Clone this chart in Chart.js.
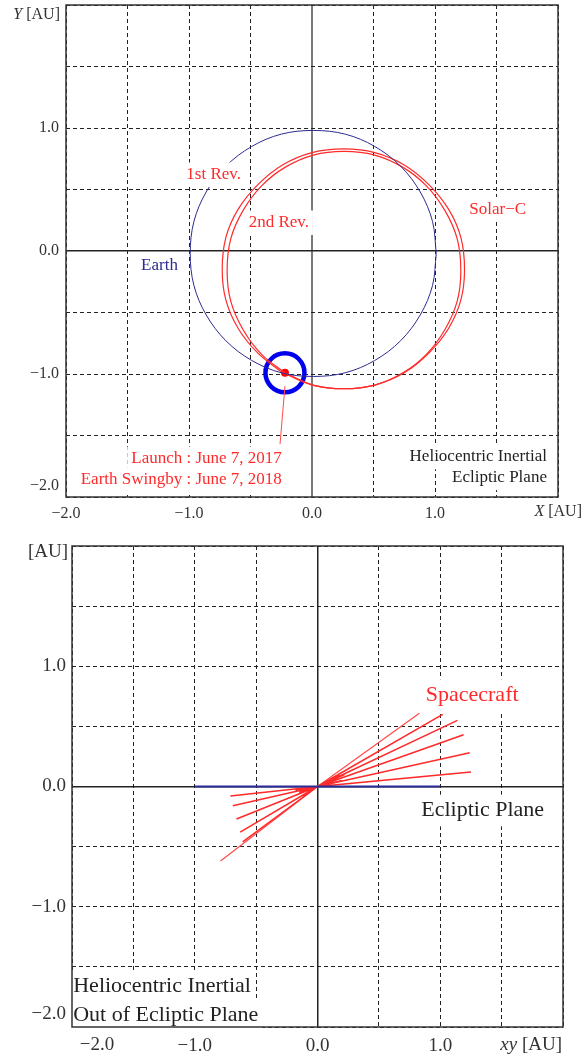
<!DOCTYPE html>
<html>
<head>
<meta charset="utf-8">
<script src="https://cdn.jsdelivr.net/npm/chart.js@4.4.1/dist/chart.umd.min.js"></script>
<style>
  html, body { margin: 0; padding: 0; background: #fff; }
  canvas { position: absolute; left: 0; }
  #top { top: 0; }
  #bottom { top: 520px; }
</style>
</head>
<body>
<canvas id="top" width="583" height="520"></canvas>
<canvas id="bottom" width="583" height="539"></canvas>
<script>
// ---------- top panel: ecliptic plane, X / Y in AU ----------
const earthX = [1.01, 0.98, 0.88, 0.72, 0.51, 0.27, 0.01, -0.25, -0.49, -0.70, -0.86, -0.96, -0.99,
                -0.96, -0.86, -0.70, -0.49, -0.25, 0.01, 0.27, 0.51, 0.72, 0.88, 0.98, 1.01];
const earthY = [-0.02, 0.24, 0.48, 0.69, 0.85, 0.95, 0.98, 0.95, 0.85, 0.69, 0.48, 0.24, -0.02,
                -0.28, -0.52, -0.73, -0.89, -0.99, -1.02, -0.99, -0.89, -0.73, -0.52, -0.28, -0.02];

// Solar-C, 1st and 2nd revolution (start / end near the launch point)
const rev1X = [-0.24, 0.00, 0.26, 0.51, 0.75, 0.95, 1.11, 1.21, 1.24, 1.21, 1.11, 0.95, 0.75,
               0.51, 0.26, 0.00, -0.24, -0.44, -0.60, -0.70, -0.73, -0.70, -0.60, -0.44, -0.24];
const rev1Y = [-0.99, -1.09, -1.12, -1.09, -0.99, -0.83, -0.63, -0.40, -0.15, 0.11, 0.34, 0.54, 0.70,
               0.80, 0.83, 0.80, 0.70, 0.54, 0.34, 0.11, -0.15, -0.40, -0.63, -0.83, -0.99];
const rev2X = [-0.22, 0.01, 0.26, 0.51, 0.74, 0.93, 1.08, 1.18, 1.21, 1.18, 1.08, 0.93, 0.74,
               0.51, 0.26, 0.01, -0.22, -0.41, -0.56, -0.66, -0.69, -0.66, -0.56, -0.41, -0.22];
const rev2Y = [-0.99, -1.09, -1.12, -1.09, -0.99, -0.84, -0.64, -0.41, -0.16, 0.10, 0.33, 0.53, 0.68,
               0.78, 0.81, 0.78, 0.68, 0.53, 0.33, 0.10, -0.16, -0.41, -0.64, -0.84, -0.99];

const launchX = [-0.22];
const launchY = [-0.99];
const leaderX = [-0.22, -0.26];
const leaderY = [-1.10, -1.57];

const topXLabels = [-2, -1, 0, 1];
const topYLabels = [1, 0, -1];

// ---------- bottom panel: out of ecliptic, xy / z in AU ----------
const eclipticX = [-1.0, 1.0];
const eclipticY = [0, 0];
const fanX = [1.02, 1.14, 1.19, 1.24, 1.25, 0.22, 0.18, 0.14, 0.20, -0.71, -0.69, -0.66, -0.63, -0.61, -0.15, -0.12, -0.18];
const fanY = [0.60, 0.55, 0.43, 0.28, 0.12, 0.10, 0.09, 0.07, 0.05, -0.08, -0.16, -0.27, -0.38, -0.46, -0.05, -0.08, -0.03];
const fanSteepX = [0.83, -0.79];
const fanSteepY = [0.61, -0.62];

const botXLabels = [-1, 0, 1];
const botYLabels = [1, 0, -1];

const SERIF = '"Liberation Serif", "Times New Roman", serif';
const RED = '#ff2a2a';

const pts = (xs, ys) => xs.map((x, i) => ({ x: x, y: ys[i] }));
const fromOrigin = (xs, ys) => {
  const out = [{ x: 0, y: 0 }];
  xs.forEach((x, i) => { out.push({ x: x, y: ys[i] }); out.push({ x: 0, y: 0 }); });
  return out;
};
const fmt = v => (v < 0 ? '\u2212' : '') + Math.abs(v).toFixed(1);

// free text: annotations in data units, axis titles in canvas px
const notes = {
  id: 'notes',
  afterDatasetsDraw(chart, args, opts) {
    const ctx = chart.ctx;
    const sx = chart.scales.x, sy = chart.scales.y;
    ctx.save();
    ctx.textBaseline = 'middle';
    (opts.items || []).forEach(it => {
      const parts = it.parts || [[it.text, false]];
      const px = it.data ? sx.getPixelForValue(it.x) : it.x;
      const py = it.data ? sy.getPixelForValue(it.y) : it.y;
      let w = 0;
      parts.forEach(p => {
        ctx.font = (p[1] ? 'italic ' : '') + it.size + 'px ' + SERIF;
        w += ctx.measureText(p[0]).width;
      });
      let x0 = it.align === 'right' ? px - w : it.align === 'center' ? px - w / 2 : px;
      if (it.bg) {
        ctx.fillStyle = '#fff';
        ctx.fillRect(x0 - 4, py - it.size * 0.72, w + 8, it.size * 1.44);
      }
      ctx.fillStyle = it.color;
      ctx.textAlign = 'left';
      parts.forEach(p => {
        ctx.font = (p[1] ? 'italic ' : '') + it.size + 'px ' + SERIF;
        ctx.fillText(p[0], x0, py);
        x0 += ctx.measureText(p[0]).width;
      });
    });
    ctx.restore();
  },
  afterDraw(chart) {
    const a = chart.chartArea, ctx = chart.ctx;
    ctx.save();
    ctx.strokeStyle = '#333';
    ctx.lineWidth = 1.5;
    ctx.strokeRect(a.left, a.top, a.right - a.left, a.bottom - a.top);
    ctx.restore();
  }
};

function axis(kind, labels, size, pad, fitSize, zeroColor, zeroWidth) {
  return {
    type: 'linear', min: -2, max: 2,
    ticks: {
      stepSize: 0.5, autoSkip: false, maxRotation: 0, padding: pad,
      color: '#333', font: { family: SERIF, size: size },
      callback: v => labels.includes(v) ? fmt(v) : ''
    },
    grid: {
      drawTicks: false,
      color: c => c.tick && c.tick.value === 0 ? zeroColor : '#222',
      lineWidth: c => c.tick && c.tick.value === 0 ? zeroWidth : 1
    },
    border: { display: false, dash: c => c.tick && c.tick.value !== 0 ? [4, 3] : [] },
    afterFit: s => {
      if (kind === 'x') { s.height = fitSize; s.paddingLeft = 0; s.paddingRight = 0; }
      else { s.width = fitSize; s.paddingTop = 0; s.paddingBottom = 0; }
    }
  };
}

const line = (data, color, width, tension) => ({
  data: data, showLine: true, borderColor: color, borderWidth: width,
  pointRadius: 0, tension: tension || 0, fill: false
});

new Chart(document.getElementById('top'), {
  type: 'scatter',
  plugins: [notes],
  data: {
    datasets: [
      line(pts(earthX, earthY), '#2b2b90', 1, 0.35),
      line(pts(rev1X, rev1Y), RED, 1.2, 0.35),
      line(pts(rev2X, rev2Y), RED, 1.2, 0.35),
      line(pts(leaderX, leaderY), '#ff4a4a', 1, 0),
      { data: pts(launchX, launchY), pointRadius: 19.5, pointBorderWidth: 4.5,
        pointBorderColor: '#0000ee', pointBackgroundColor: 'rgba(0,0,0,0)' },
      { data: pts(launchX, launchY), pointRadius: 4, pointBorderWidth: 0,
        pointBackgroundColor: '#ff0000' }
    ]
  },
  options: {
    responsive: false, animation: false,
    layout: { autoPadding: false, padding: { top: 5, right: 25, bottom: 0, left: 0 } },
    scales: {
      x: axis('x', topXLabels, 16, 7, 23, '#7a7a7a', 2),
      y: axis('y', topYLabels, 16, 7, 66, '#222', 1.5)
    },
    plugins: {
      legend: { display: false }, tooltip: { enabled: false },
      notes: { items: [
        { text: '1st Rev.', x: -0.80, y: 0.62, data: true, align: 'center', size: 17, color: RED, bg: true },
        { text: '2nd Rev.', x: -0.27, y: 0.23, data: true, align: 'center', size: 17, color: RED, bg: true },
        { text: 'Solar\u2212C', x: 1.51, y: 0.34, data: true, align: 'center', size: 17, color: RED, bg: true },
        { text: 'Earth', x: -1.24, y: -0.12, data: true, align: 'center', size: 17, color: '#2b2b90', bg: true },
        { text: 'Launch : June 7, 2017', x: -0.245, y: -1.69, data: true, align: 'right', size: 17, color: RED, bg: true },
        { text: 'Earth Swingby : June 7, 2018', x: -0.245, y: -1.86, data: true, align: 'right', size: 17, color: RED, bg: true },
        { text: 'Heliocentric Inertial', x: 1.91, y: -1.675, data: true, align: 'right', size: 17, color: '#222', bg: true },
        { text: 'Ecliptic Plane', x: 1.91, y: -1.845, data: true, align: 'right', size: 17, color: '#222', bg: true },
        { parts: [['Y', true], [' [AU]', false]], x: 60, y: 15, align: 'right', size: 16, color: '#333' },
        { parts: [['X', true], [' [AU]', false]], x: 582, y: 512, align: 'right', size: 16, color: '#333' },
        { text: fmt(-2), x: 59, y: 486, align: 'right', size: 16, color: '#333' }
      ] }
    }
  }
});

new Chart(document.getElementById('bottom'), {
  type: 'scatter',
  plugins: [notes],
  data: {
    datasets: [
      line(pts(eclipticX, eclipticY), '#2b2b9a', 2, 0),
      line(fromOrigin(fanX, fanY), RED, 1.5, 0),
      line(fromOrigin(fanSteepX, fanSteepY), '#ff4a4a', 1.2, 0)
    ]
  },
  options: {
    responsive: false, animation: false,
    layout: { autoPadding: false, padding: { top: 26, right: 20, bottom: 0, left: 0 } },
    scales: {
      x: axis('x', botXLabels, 19, 8, 32, '#222', 1.5),
      y: axis('y', botYLabels, 19, 6, 72, '#222', 1.5)
    },
    plugins: {
      legend: { display: false }, tooltip: { enabled: false },
      notes: { items: [
        { text: 'Spacecraft', x: 1.26, y: 0.76, data: true, align: 'center', size: 22, color: RED, bg: true },
        { text: 'Ecliptic Plane', x: 0.845, y: -0.20, data: true, align: 'left', size: 22, color: '#222', bg: true },
        { text: 'Heliocentric Inertial', x: -1.99, y: -1.66, data: true, align: 'left', size: 22, color: '#222', bg: true },
        { text: 'Out of Ecliptic Plane', x: -1.99, y: -1.90, data: true, align: 'left', size: 22, color: '#222', bg: true },
        { text: '[AU]', x: 68, y: 32, align: 'right', size: 19, color: '#333' },
        { parts: [['xy', true], [' [AU]', false]], x: 562, y: 525, align: 'right', size: 19, color: '#333' },
        { text: fmt(-2), x: 66, y: 494, align: 'right', size: 19, color: '#333' },
        { text: fmt(-2), x: 97, y: 525, align: 'center', size: 19, color: '#333' }
      ] }
    }
  }
});
</script>
</body>
</html>
